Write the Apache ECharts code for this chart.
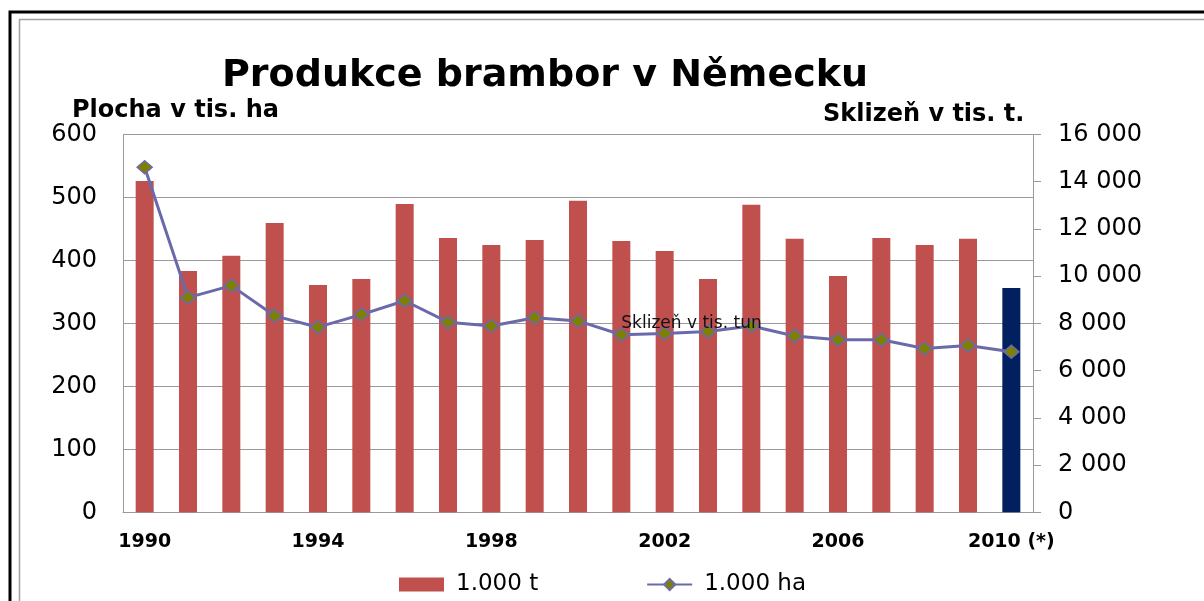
<!DOCTYPE html>
<html>
<head>
<meta charset="utf-8">
<script src="https://cdn.jsdelivr.net/npm/echarts@6/dist/echarts.min.js"></script>
<style>
html,body{margin:0;padding:0;background:#fff;}
#chart{width:1204px;height:601px;}
</style>
</head>
<body>
<div id="chart"></div>
<script>
// Categories (years); last one is a preliminary estimate
const years = ['1990','1991','1992','1993','1994','1995','1996','1997','1998','1999','2000',
               '2001','2002','2003','2004','2005','2006','2007','2008','2009','2010 (*)'];
// Harvest in thousand tonnes (right axis, bars)
const harvest = [14030,10220,10860,12250,9630,9880,13060,11620,11320,11530,13190,
                 11490,11070,9880,13020,11580,10010,11620,11320,11580,9500];
// Area in thousand ha (left axis, line)
const area = [548,341,360,312,294,314,336,302,296,309,304,
              282,284,287,296,280,274,274,260,265,255];
// Axis tick settings
const leftTicks = {min:0, max:600, interval:100};
const rightTicks = {min:0, max:16000, interval:2000};

const FONT = 'DejaVu Sans';
const GRID_COLOR = '#9a9a9a';

function fmtThousands(v){
  return String(v).replace(/\B(?=(\d{3})+(?!\d))/g, ' ');
}

const barData = harvest.map((v,i) => i === harvest.length - 1
  ? {value: v, itemStyle: {color: '#002060'}}
  : v);

const chart = echarts.init(document.getElementById('chart'), null, {renderer:'canvas'});
chart.setOption({
  backgroundColor: '#ffffff',
  animation: false,
  title: [
    {text: 'Produkce brambor v Německu', left: 222, top: 57, padding: 0,
     textStyle: {fontFamily: FONT, fontWeight: 'bold', fontSize: 38, color: '#000'}},
    {text: 'Plocha v tis. ha', left: 72, top: 99, padding: 0,
     textStyle: {fontFamily: FONT, fontWeight: 'bold', fontSize: 24, color: '#000'}},
    {text: 'Sklizeň v tis. t.', left: 823, top: 103, padding: 0,
     textStyle: {fontFamily: FONT, fontWeight: 'bold', fontSize: 24, color: '#000'}}
  ],
  graphic: [
    {type: 'rect', silent: true, shape: {x: 10, y: 12, width: 1300, height: 700},
     style: {fill: 'none', stroke: '#000', lineWidth: 3}},
    {type: 'rect', silent: true, shape: {x: 19.5, y: 19.5, width: 1300, height: 700},
     style: {fill: 'none', stroke: '#a0a0a0', lineWidth: 1.5}}
  ],
  legend: {
    left: 399, top: 573, itemWidth: 45, itemHeight: 14, itemGap: 108, padding: 0,
    textStyle: {fontFamily: FONT, fontSize: 23, color: '#000', padding: [0,0,0,7]},
    data: [{name: '1.000 t', icon: 'rect'}, {name: '1.000 ha'}]
  },
  grid: {left: 123, right: 171, top: 134.5, bottom: 88.7, containLabel: false},
  xAxis: {
    type: 'category', data: years,
    axisLine: {show: true, lineStyle: {color: GRID_COLOR, width: 1}},
    axisTick: {show: false},
    axisLabel: {interval: 3, margin: 20, fontFamily: FONT, fontWeight: 'bold', fontSize: 19, color: '#000'}
  },
  yAxis: [
    {type: 'value', position: 'left', min: leftTicks.min, max: leftTicks.max, interval: leftTicks.interval,
     axisLine: {show: true, lineStyle: {color: GRID_COLOR, width: 1}},
     axisTick: {show: false},
     splitLine: {show: true, lineStyle: {color: GRID_COLOR, width: 1}},
     axisLabel: {margin: 26, fontFamily: FONT, fontSize: 24, color: '#000'}},
    {type: 'value', position: 'right', min: rightTicks.min, max: rightTicks.max, interval: rightTicks.interval,
     axisLine: {show: true, lineStyle: {color: GRID_COLOR, width: 1}},
     axisTick: {show: true, inside: false, length: 8, lineStyle: {color: GRID_COLOR}},
     splitLine: {show: false},
     axisLabel: {margin: 25, fontFamily: FONT, fontSize: 24, color: '#000', formatter: fmtThousands}}
  ],
  series: [
    {name: '1.000 t', type: 'bar', yAxisIndex: 1, data: barData, barWidth: 18,
     itemStyle: {color: '#C0504D'}, z: 2},
    {name: '1.000 ha', type: 'line', yAxisIndex: 0, data: area, z: 3,
     symbol: 'diamond', symbolSize: [15, 13],
     lineStyle: {color: '#6A6AAA', width: 3},
     itemStyle: {color: '#808000', borderColor: '#6A6AAA', borderWidth: 1.5},
     markPoint: {
       symbol: 'circle', symbolSize: 0, silent: true,
       data: [{coord: ['2001', 300], value: 'Sklizeň v tis. tun'}],
       label: {show: true, position: 'right', distance: 0, formatter: '{c}',
               fontFamily: FONT, fontSize: 17, color: '#111'}
     }}
  ]
});
</script>
</body>
</html>
